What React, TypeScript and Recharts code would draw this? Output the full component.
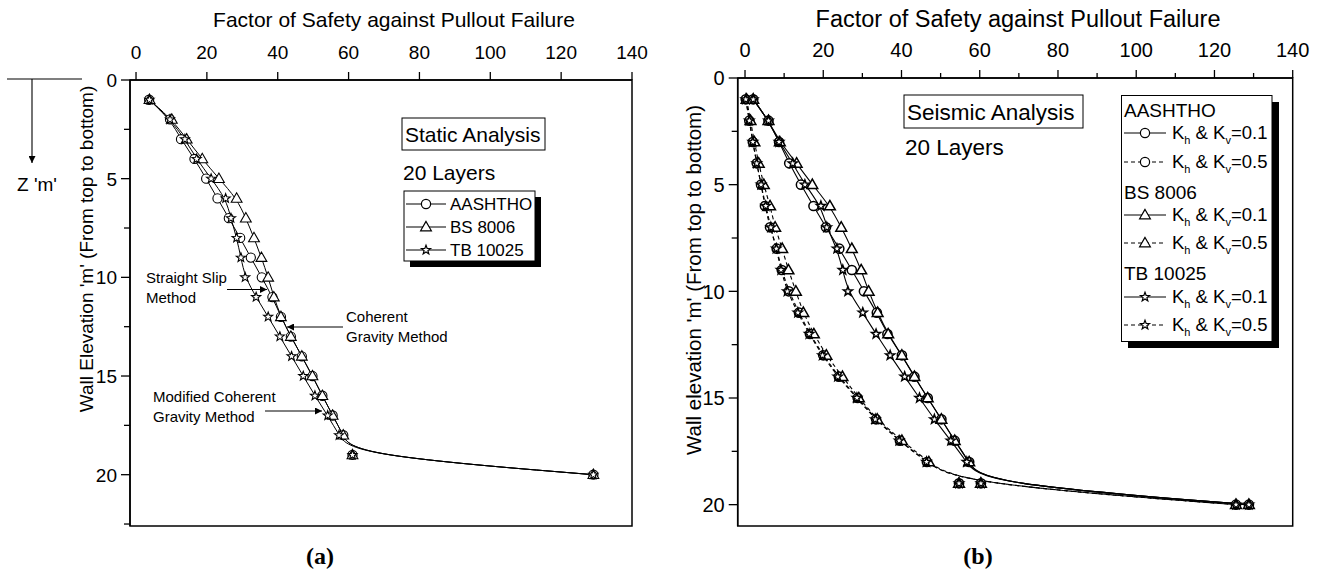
import React from 'react';
import { ComposedChart, Line, XAxis, YAxis } from 'recharts';

// ---- data ----
const depths = [1, 2, 3, 4, 5, 6, 7, 8, 9, 10, 11, 12, 13, 14, 15, 16, 17, 18, 19, 20];

// (a) static analysis
const staticAASHTHO = [3.7, 9.6, 12.7, 16.5, 19.8, 23.0, 26.2, 29.4, 32.4, 35.5, 38.5, 40.9, 43.7, 46.8, 49.8, 52.6, 55.5, 58.5, 61.1, 129.1];
const staticBS8006 = [3.8, 10.1, 14.3, 18.7, 23.4, 28.4, 31.0, 33.3, 35.4, 37.3, 38.9, 40.9, 43.7, 46.8, 49.8, 52.6, 55.5, 58.5, 61.1, 129.1];
const staticTB10025 = [3.8, 9.6, 13.8, 17.1, 21.2, 25.3, 26.8, 28.4, 29.6, 30.8, 33.9, 37.3, 40.6, 43.9, 47.2, 50.5, 54.1, 57.3, 61.1, 129.1];

// (b) seismic analysis
const seisAASHTHO01 = [2.1, 6.0, 8.7, 11.3, 14.3, 17.5, 20.7, 24.1, 27.3, 30.4, 33.7, 36.4, 40.1, 43.3, 46.7, 50.2, 53.6, 57.3, 60.3, 128.8];
const seisAASHTHO05 = [0.2, 1.1, 2.0, 3.0, 4.1, 5.1, 6.4, 8.1, 9.4, 11.2, 13.8, 16.6, 20.0, 24.0, 28.8, 33.5, 39.6, 46.5, 54.7, 125.5];
const seisBS01 = [2.1, 6.0, 8.9, 13.2, 17.2, 21.7, 24.6, 27.3, 29.7, 31.6, 33.9, 36.6, 40.1, 43.3, 46.7, 50.2, 53.6, 57.3, 60.3, 128.8];
const seisBS05 = [0.4, 1.4, 2.4, 3.5, 4.8, 6.4, 7.7, 9.5, 11.1, 13.0, 14.9, 17.6, 20.8, 24.9, 29.1, 33.8, 40.1, 47.0, 54.7, 125.5];
const seisTB01 = [2.1, 6.0, 8.7, 12.2, 15.3, 19.4, 20.9, 23.5, 25.0, 26.3, 30.1, 33.5, 37.1, 40.8, 44.6, 48.4, 52.6, 56.7, 60.3, 128.8];
const seisTB05 = [0.2, 1.1, 2.0, 3.0, 4.1, 5.3, 6.6, 8.0, 9.2, 10.8, 13.5, 16.4, 19.8, 23.7, 28.6, 33.3, 39.4, 46.4, 54.7, 125.5];

const xTicksA = [0, 20, 40, 60, 80, 100, 120, 140];
const xTicksB = [0, 10, 20, 30, 40, 50, 60, 70, 80, 90, 100, 110, 120, 130, 140];
const yTicksA = [0, 2.5, 5, 7.5, 10, 12.5, 15, 17.5, 20, 22.5];
const yTicksB = [0, 2.5, 5, 7.5, 10, 12.5, 15, 17.5, 20];

const staticRows = depths.map((d, i) => ({
  depth: d,
  aashtho: staticAASHTHO[i],
  bs: staticBS8006[i],
  tb: staticTB10025[i],
}));

const seisRows = depths.map((d, i) => ({
  depth: d,
  a1: seisAASHTHO01[i],
  a5: seisAASHTHO05[i],
  b1: seisBS01[i],
  b5: seisBS05[i],
  t1: seisTB01[i],
  t5: seisTB05[i],
}));

const FONT = '"Liberation Sans", Arial, sans-serif';

type Shape = 'circle' | 'triangle' | 'star';

function Marker({ cx, cy, shape, sw = 1.2 }: { cx: number; cy: number; shape: Shape; sw?: number }) {
  if (cx == null || cy == null) return null;
  if (shape === 'circle') {
    return <circle cx={cx} cy={cy} r={4.6} fill="#fff" stroke="#000" strokeWidth={sw} />;
  }
  if (shape === 'triangle') {
    const pts = `${cx},${cy - 5.6} ${cx - 5.4},${cy + 3.8} ${cx + 5.4},${cy + 3.8}`;
    return <polygon points={pts} fill="#fff" stroke="#000" strokeWidth={sw} strokeLinejoin="miter" />;
  }
  const pts: string[] = [];
  for (let k = 0; k < 10; k++) {
    const r = k % 2 === 0 ? 4.8 : 2.0;
    const a = -Math.PI / 2 + (k * Math.PI) / 5;
    pts.push(`${(cx + r * Math.cos(a)).toFixed(2)},${(cy + r * Math.sin(a)).toFixed(2)}`);
  }
  return <polygon points={pts.join(' ')} fill="#fff" stroke="#000" strokeWidth={sw} strokeLinejoin="miter" />;
}

const dotFn = (shape: Shape, sw: number) => (p: any) => (
  <Marker key={`m-${shape}-${p.index}`} cx={p.cx} cy={p.cy} shape={shape} sw={sw} />
);

const makeXTick = (majorStep: number, fs: number) => (props: any) => {
  const { x, y, payload } = props;
  const v = payload.value;
  const major = Math.abs(v % majorStep) < 1e-6;
  return (
    <g>
      <line x1={x} x2={x} y1={y} y2={y - (major ? 8 : 5)} stroke="#000" strokeWidth={1.3} />
      {major && (
        <text x={x} y={y - 21} textAnchor="middle" fontSize={fs} fontFamily={FONT} fill="#000">
          {v}
        </text>
      )}
    </g>
  );
};

const makeYTick = (fs: number) => (props: any) => {
  const { x, y, payload } = props;
  const v = payload.value;
  const major = Math.abs(v % 5) < 1e-6;
  return (
    <g>
      <line x1={x} x2={x - (major ? 9 : 6)} y1={y} y2={y} stroke="#000" strokeWidth={1.3} />
      {major && (
        <text x={x - 13} y={y + fs * 0.36} textAnchor="end" fontSize={fs} fontFamily={FONT} fill="#000">
          {v}
        </text>
      )}
    </g>
  );
};

const axisLineStyle = { stroke: '#000', strokeWidth: 1.5 };

function StaticChart() {
  return (
    <ComposedChart
      width={660}
      height={575}
      data={staticRows}
      layout="vertical"
      margin={{ top: 30, left: 70, right: 28, bottom: 49 }}
    >
      <XAxis
        type="number"
        orientation="top"
        height={50}
        domain={[-1.7, 140]}
        allowDataOverflow
        ticks={xTicksA}
        interval={0}
        tickLine={false}
        tickSize={0}
        tickMargin={0}
        axisLine={axisLineStyle}
        tick={makeXTick(20, 19)}
      />
      <YAxis
        type="number"
        dataKey="depth"
        width={60}
        domain={[0, 22.6]}
        allowDataOverflow
        ticks={yTicksA}
        interval={0}
        tickLine={false}
        tickSize={0}
        tickMargin={0}
        axisLine={axisLineStyle}
        tick={makeYTick(19)}
      />
      <Line dataKey="aashtho" type="basis" stroke="#000" strokeWidth={1} dot={dotFn('circle', 1.1)} isAnimationActive={false} activeDot={false} />
      <Line dataKey="bs" type="basis" stroke="#000" strokeWidth={1} dot={dotFn('triangle', 1.1)} isAnimationActive={false} activeDot={false} />
      <Line dataKey="tb" type="basis" stroke="#000" strokeWidth={1} dot={dotFn('star', 1.1)} isAnimationActive={false} activeDot={false} />
    </ComposedChart>
  );
}

function SeismicChart() {
  return (
    <ComposedChart
      width={660}
      height={575}
      data={seisRows}
      layout="vertical"
      margin={{ top: 28, left: 17.7, right: 27.3, bottom: 49 }}
    >
      <XAxis
        type="number"
        orientation="top"
        height={50}
        domain={[-1.87, 140]}
        allowDataOverflow
        ticks={xTicksB}
        interval={0}
        tickLine={false}
        tickSize={0}
        tickMargin={0}
        axisLine={axisLineStyle}
        tick={makeXTick(20, 20)}
      />
      <YAxis
        type="number"
        dataKey="depth"
        width={60}
        domain={[0, 21]}
        allowDataOverflow
        ticks={yTicksB}
        interval={0}
        tickLine={false}
        tickSize={0}
        tickMargin={0}
        axisLine={axisLineStyle}
        tick={makeYTick(20)}
      />
      <Line dataKey="a5" type="basis" stroke="#000" strokeWidth={1.1} strokeDasharray="4 3" dot={dotFn('circle', 1.5)} isAnimationActive={false} activeDot={false} />
      <Line dataKey="b5" type="basis" stroke="#000" strokeWidth={1.1} strokeDasharray="4 3" dot={dotFn('triangle', 1.5)} isAnimationActive={false} activeDot={false} />
      <Line dataKey="t5" type="basis" stroke="#000" strokeWidth={1.1} strokeDasharray="4 3" dot={dotFn('star', 1.5)} isAnimationActive={false} activeDot={false} />
      <Line dataKey="a1" type="basis" stroke="#000" strokeWidth={1.1} dot={dotFn('circle', 1.5)} isAnimationActive={false} activeDot={false} />
      <Line dataKey="b1" type="basis" stroke="#000" strokeWidth={1.1} dot={dotFn('triangle', 1.5)} isAnimationActive={false} activeDot={false} />
      <Line dataKey="t1" type="basis" stroke="#000" strokeWidth={1.1} dot={dotFn('star', 1.5)} isAnimationActive={false} activeDot={false} />
    </ComposedChart>
  );
}

function KText({ x, y, k }: { x: number; y: number; k: string }) {
  return (
    <text x={x} y={y} fontSize={18.5} fontFamily={FONT} fill="#000">
      K<tspan fontSize={11} dy={5}>h</tspan>
      <tspan fontSize={18.5} dy={-5}>{' & K'}</tspan>
      <tspan fontSize={11} dy={5}>v</tspan>
      <tspan fontSize={18.5} dy={-5}>{`=${k}`}</tspan>
    </text>
  );
}

function LegendSample({ x1, x2, y, dashed, shape }: { x1: number; x2: number; y: number; dashed: boolean; shape: Shape }) {
  const mid = (x1 + x2) / 2;
  return (
    <g>
      <line x1={x1} x2={x2} y1={y} y2={y} stroke="#000" strokeWidth={1.1} strokeDasharray={dashed ? '4 3' : undefined} />
      <Marker cx={mid} cy={y} shape={shape} sw={1.2} />
    </g>
  );
}

function Overlay() {
  const seisRowsLegend: { label?: string; y: number; shape?: Shape; dashed?: boolean; k?: string }[] = [
    { label: 'AASHTHO', y: 110 },
    { y: 133, shape: 'circle', dashed: false, k: '0.1' },
    { y: 162, shape: 'circle', dashed: true, k: '0.5' },
    { label: 'BS 8006', y: 192 },
    { y: 215, shape: 'triangle', dashed: false, k: '0.1' },
    { y: 243, shape: 'triangle', dashed: true, k: '0.5' },
    { label: 'TB 10025', y: 273 },
    { y: 297, shape: 'star', dashed: false, k: '0.1' },
    { y: 325, shape: 'star', dashed: true, k: '0.5' },
  ];
  return (
    <svg width={1320} height={575} style={{ position: 'absolute', left: 0, top: 0, pointerEvents: 'none' }}>
      <defs>
        <marker id="arr" viewBox="0 0 10 10" refX="10" refY="5" markerWidth="9" markerHeight="7" orient="auto" markerUnits="userSpaceOnUse">
          <path d="M0,0 L10,5 L0,10 z" fill="#000" />
        </marker>
      </defs>

      {/* plot frames */}
      <rect x={130} y={80} width={502} height={446} fill="none" stroke="#000" strokeWidth={1.5} />
      <rect x={737.7} y={78} width={555} height={448} fill="none" stroke="#000" strokeWidth={1.5} />

      {/* titles */}
      <text x={394} y={27} textAnchor="middle" fontSize={21} fontFamily={FONT}>Factor of Safety against Pullout Failure</text>
      <text x={1018} y={27} textAnchor="middle" fontSize={23.5} fontFamily={FONT}>Factor of Safety against Pullout Failure</text>

      {/* y labels */}
      <text x={93} y={249} transform="rotate(-90, 93, 249)" textAnchor="middle" fontSize={19} fontFamily={FONT}>Wall Elevation 'm' (From top to bottom)</text>
      <text x={701} y={280} transform="rotate(-90, 701, 280)" textAnchor="middle" fontSize={20.5} fontFamily={FONT}>Wall elevation 'm' (From top to bottom)</text>

      {/* Z arrow */}
      <line x1={7} x2={82} y1={79} y2={79} stroke="#000" strokeWidth={1.1} />
      <line x1={32} x2={32} y1={79} y2={163} stroke="#000" strokeWidth={1.1} markerEnd="url(#arr)" />
      <text x={17} y={191} fontSize={19} fontFamily={FONT}>Z 'm'</text>

      {/* static annotations */}
      <rect x={402} y={118} width={143} height={32} fill="#fff" stroke="#000" strokeWidth={1} />
      <text x={405} y={141.5} fontSize={21} fontFamily={FONT}>Static Analysis</text>
      <text x={403} y={179.5} fontSize={21} fontFamily={FONT}>20 Layers</text>

      <rect x={410} y={197} width={131} height={70} fill="#000" />
      <rect x={404} y={191} width={131} height={70} fill="#fff" stroke="#000" strokeWidth={1} />
      <LegendSample x1={406} x2={446} y={204} dashed={false} shape="circle" />
      <LegendSample x1={406} x2={446} y={227} dashed={false} shape="triangle" />
      <LegendSample x1={406} x2={446} y={250} dashed={false} shape="star" />
      <text x={450} y={210} fontSize={17} fontFamily={FONT}>AASHTHO</text>
      <text x={450} y={233} fontSize={17} fontFamily={FONT}>BS 8006</text>
      <text x={450} y={256} fontSize={17} fontFamily={FONT}>TB 10025</text>

      <text x={146} y={283} fontSize={15} fontFamily={FONT}>Straight Slip</text>
      <text x={146} y={303} fontSize={15} fontFamily={FONT}>Method</text>
      <line x1={227} x2={267} y1={289.5} y2={289.5} stroke="#000" strokeWidth={1} markerEnd="url(#arr)" />

      <text x={346} y={322} fontSize={15} fontFamily={FONT}>Coherent</text>
      <text x={346} y={342} fontSize={15} fontFamily={FONT}>Gravity Method</text>
      <line x1={343} x2={287} y1={327} y2={327} stroke="#000" strokeWidth={1} markerEnd="url(#arr)" />

      <text x={153} y={402} fontSize={15} fontFamily={FONT}>Modified Coherent</text>
      <text x={153} y={422} fontSize={15} fontFamily={FONT}>Gravity Method</text>
      <line x1={265} x2={322} y1={411} y2={411} stroke="#000" strokeWidth={1} markerEnd="url(#arr)" />

      {/* seismic annotations */}
      <rect x={904} y={95} width={179} height={33} fill="#fff" stroke="#000" strokeWidth={1} />
      <text x={907} y={119.5} fontSize={22.5} fontFamily={FONT}>Seismic Analysis</text>
      <text x={905} y={155} fontSize={22.5} fontFamily={FONT}>20 Layers</text>

      <rect x={1128} y={102} width={151} height={246} fill="#000" />
      <rect x={1121.5} y={95.5} width={150.5} height={246} fill="#fff" stroke="#000" strokeWidth={1} />
      {seisRowsLegend.map((r, i) =>
        r.label ? (
          <text key={i} x={1124} y={r.y + 6.5} fontSize={19} fontFamily={FONT}>{r.label}</text>
        ) : (
          <g key={i}>
            <LegendSample x1={1124} x2={1166} y={r.y} dashed={!!r.dashed} shape={r.shape as Shape} />
            <KText x={1172} y={r.y + 6} k={r.k as string} />
          </g>
        )
      )}

      {/* captions */}
      <text x={320} y={564} textAnchor="middle" fontSize={24} fontWeight="bold" fontFamily='"Liberation Serif", "Times New Roman", serif'>(a)</text>
      <text x={978} y={564} textAnchor="middle" fontSize={24} fontWeight="bold" fontFamily='"Liberation Serif", "Times New Roman", serif'>(b)</text>
    </svg>
  );
}

export default function App() {
  return (
    <div style={{ position: 'absolute', left: 0, top: 0, width: 1320, height: 575, background: '#fff', fontFamily: FONT }}>
      <div style={{ position: 'absolute', left: 0, top: 0 }}>
        <StaticChart />
      </div>
      <div style={{ position: 'absolute', left: 660, top: 0 }}>
        <SeismicChart />
      </div>
      <Overlay />
    </div>
  );
}
